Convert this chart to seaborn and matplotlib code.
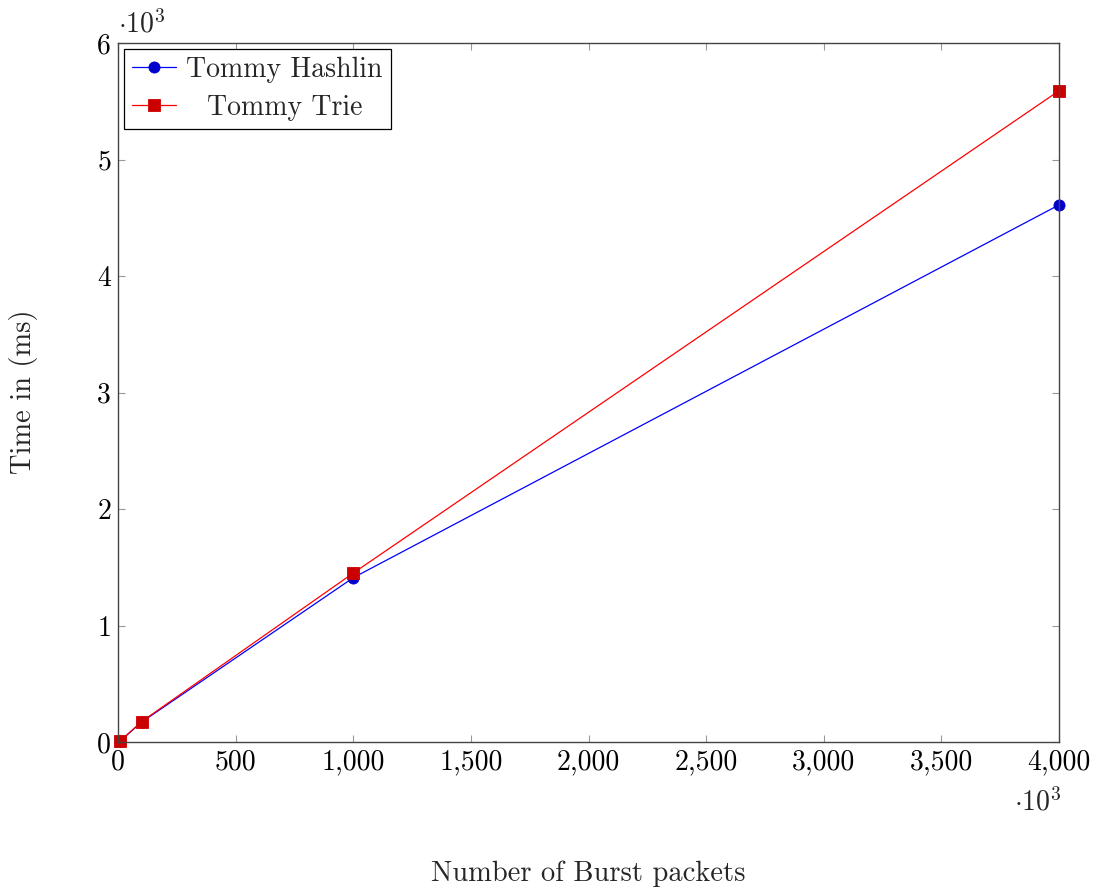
# Burst packets vs. time, Tommy Hashlin vs Tommy Trie
import pandas as pd
import matplotlib
matplotlib.use("Agg")
import matplotlib.pyplot as plt
from matplotlib.ticker import FuncFormatter, MultipleLocator
import seaborn as sns

# data (both axes in units of 10^3)
packets = [10, 100, 1000, 4000]
hashlin_time = [0.01, 0.17, 1.41, 4.61]
trie_time = [0.01, 0.175, 1.45, 5.59]
series_names = ["Tommy Hashlin", "Tommy Trie"]

df = pd.DataFrame({
    "packets": packets * 2,
    "time": hashlin_time + trie_time,
    "method": [series_names[0]] * len(packets) + [series_names[1]] * len(packets),
})

sns.set_style("ticks")
plt.rcParams["font.family"] = ["cmr10", "DejaVu Serif"]
plt.rcParams["mathtext.fontset"] = "cm"
plt.rcParams["axes.unicode_minus"] = False
plt.rcParams["axes.formatter.use_mathtext"] = True

fig = plt.figure(figsize=(10.97, 8.89), dpi=100)
ax = fig.add_axes([118 / 1097, 1 - 742 / 889, (1059 - 118) / 1097, (742 - 43) / 889])

line_cols = {"Tommy Hashlin": "#0000ff", "Tommy Trie": "#ff0000"}
fill_cols = {"Tommy Hashlin": "#0000cc", "Tommy Trie": "#cc0000"}

sns.lineplot(
    data=df, x="packets", y="time", hue="method", style="method",
    markers={"Tommy Hashlin": "o", "Tommy Trie": "s"}, dashes=False,
    palette=line_cols, linewidth=0.9, markersize=8, legend=False, ax=ax,
)

# markers filled darker like pgfplots
for ln, name in zip(ax.lines, series_names):
    ln.set_markerfacecolor(fill_cols[name])
    ln.set_markeredgecolor(fill_cols[name])
    ln.set_markeredgewidth(0.6)
    ln.set_clip_on(False)
    ln.set_label(name)

ax.set_xlim(0, 4000)
ax.set_ylim(0, 6)
ax.xaxis.set_major_locator(MultipleLocator(500))
ax.yaxis.set_major_locator(MultipleLocator(1))
ax.xaxis.set_major_formatter(FuncFormatter(lambda v, p: f"{v:,.0f}"))
ax.yaxis.set_major_formatter(FuncFormatter(lambda v, p: f"{v:.0f}"))

ax.set_xlabel("")
ax.set_ylabel("")
for sp in ax.spines.values():
    sp.set_visible(True)
    sp.set_color("#444444")
    sp.set_linewidth(1.0)
ax.tick_params(direction="in", length=5, width=0.8, color="#999999",
               top=True, right=True, labelsize=20, pad=5, labelcolor="black")

leg = ax.legend(handles=ax.lines[:2], loc="upper left", fontsize=20,
                frameon=True, fancybox=False, framealpha=1, edgecolor="black",
                borderaxespad=0.2, handlelength=1.6, handletextpad=0.35,
                borderpad=0.3, labelspacing=0.4)
leg.get_frame().set_linewidth(0.9)

# centre the legend entries like pgfplots does (shift the shorter one)
renderer = fig.canvas.get_renderer()
widths = [t.get_window_extent(renderer).width for t in leg.get_texts()]
for t, w in zip(leg.get_texts(), widths):
    t.set_x((max(widths) - w) / 2)

fig.text(118 / 1097, 1 - 24 / 889, r"$\cdot 10^3$", fontsize=20, ha="left", va="center")
fig.text(1062 / 1097, 1 - 802 / 889, r"$\cdot 10^3$", fontsize=20, ha="right", va="center")
fig.text(588 / 1097, 1 - 874 / 889, "Number of Burst packets", fontsize=20.5, ha="center", va="center")
fig.text(24 / 1097, 1 - 392 / 889, "Time in (ms)", fontsize=20.5, ha="center", va="center", rotation=90)

fig.savefig("out.png", dpi=100)
